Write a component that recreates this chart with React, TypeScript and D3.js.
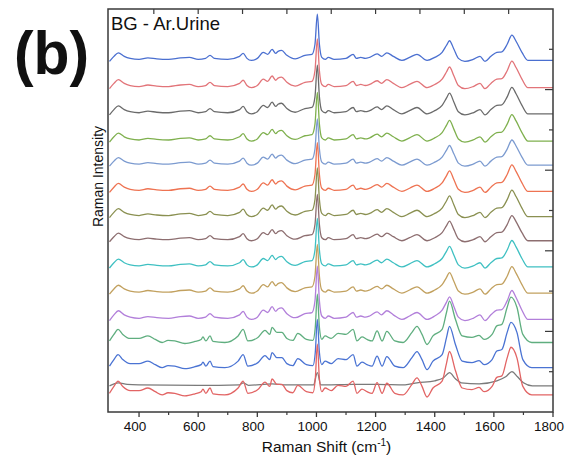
import { useEffect, useRef } from 'react';
import * as d3 from 'd3';

const W = 565;
const H = 464;
const MARGIN = { top: 9, right: 12, bottom: 52, left: 108 };

// [wavenumber (cm-1), intensity above the trace baseline]
const URINE_PROFILE: [number, number][] = [
  [300, -2], [315, 3], [330, 6.5], [350, 3], [370, 1], [400, 0], [430, 1.5], [460, 0.5],
  [500, 0], [540, 1.5], [570, 2], [600, 0], [625, 1], [640, 4], [655, 1], [700, 0],
  [740, 3], [752, 6], [765, 1], [780, -1], [800, 1], [820, 7], [835, 5], [850, 10],
  [862, 6], [870, 8], [882, 9], [900, 4], [928, 0.5], [961, 4], [985, 5], [995, 15],
  [1003, 45], [1010, 15], [1018, 2], [1030, 0], [1040, 2], [1060, 0], [1100, 1], [1124, 5],
  [1135, 1], [1150, 2], [1165, 1], [1180, 2], [1205, 5.5], [1220, 3], [1238, 6.5], [1260, 3],
  [1289, -1], [1315, 2], [1340, 5], [1374, -1], [1400, 2], [1425, 7], [1440, 14], [1450, 18.5],
  [1465, 10], [1480, 1], [1502, -2], [1530, 0], [1553, 3], [1570, -2], [1590, 3], [1610, 7],
  [1627, 7.5], [1645, 15], [1661, 24], [1675, 18], [1695, 7], [1715, -1], [1740, -1], [1800, -1],
];

const STRONG_PROFILE: [number, number][] = [
  [300, 1.5], [315, 8], [329, 13], [345, 8], [370, 4], [400, 4], [430, 6.5], [455, 3],
  [478, 0], [498, 2], [521, 1.5], [555, -1], [589, 1], [610, 3], [616, 5.5], [626, 1.5],
  [640, 6.5], [650, 1], [690, 0], [735, 6.5], [752, 13], [768, 1.5], [802, 5], [826, 12],
  [842, 8], [850, 15], [866, 10], [883, 10], [900, 4], [920, 2], [937, 9], [966, 3],
  [988, 2], [996, 15], [1003, 48], [1010, 15], [1018, 3], [1029, 6.5], [1050, 4], [1073, 9],
  [1100, 8], [1124, 13], [1137, 1.5], [1154, 5.5], [1171, 3], [1188, 1.5], [1205, 11.5], [1222, 1.5],
  [1238, 11], [1265, 1.5], [1293, 0], [1323, 10], [1340, 16], [1357, 8], [1374, -2], [1394, 6.5],
  [1425, 13], [1440, 30], [1450, 41], [1470, 23], [1493, 6.5], [1526, 5], [1550, 7], [1567, 3],
  [1594, 8], [1610, 16.5], [1627, 18], [1645, 35], [1658, 45], [1678, 35], [1698, 8], [1728, 0],
  [1800, 0],
];

const BG_PROFILE: [number, number][] = [
  [300, 0], [330, 3], [360, 1.5], [400, 1], [600, 0.5], [740, 1], [752, 3], [770, 0.5],
  [850, 2], [900, 1], [990, 1], [1003, 13], [1015, 1], [1030, 1], [1124, 1.5], [1205, 1.5],
  [1300, 1], [1340, 3], [1400, 5], [1430, 8], [1450, 13], [1470, 7], [1490, 3], [1550, 2],
  [1610, 5], [1640, 9], [1661, 14], [1680, 9], [1700, 3], [1730, 0], [1800, 0],
];

const PROFILES: Record<string, [number, number][]> = {
  urine: URINE_PROFILE,
  strong: STRONG_PROFILE,
  bg: BG_PROFILE,
};

// stacked traces, top to bottom
const TRACE_PROFILE = ['urine', 'urine', 'urine', 'urine', 'urine', 'urine', 'urine', 'urine',
  'urine', 'urine', 'urine', 'strong', 'strong', 'bg', 'strong'];
const TRACE_OFFSET = [350, 323, 297, 270, 246, 220, 195, 171, 145, 119, 93, 69, 44, 26, 17];
const TRACE_SCALE = [1, 1.05, 1.05, 1.05, 1, 1.05, 1.05, 1, 1.05, 1.05, 1.15, 1, 1, 1, 1.05];
const TRACE_COLORS = ['#4a6fd0', '#e27479', '#6b6b6b', '#7fb04e', '#7c9bd0', '#ee7352', '#8a9051',
  '#8d6e70', '#3fc0c2', '#c2a15f', '#b27fda', '#5fae7f', '#4a73d3', '#7a7a7a', '#e26464'];

const X_MAJOR = [400, 600, 800, 1000, 1200, 1400, 1600, 1800];
const X_MINOR = [500, 700, 900, 1100, 1300, 1500, 1700];
const X_TOP = [450, 600, 750, 900, 1050, 1200, 1350, 1500, 1650];
const Y_TICKS = [40, 80, 120, 160, 200, 240, 280, 320, 360];

export default function App() {
  const svgRef = useRef<SVGSVGElement>(null);

  useEffect(() => {
    const svg = d3.select(svgRef.current);
    svg.selectAll('*').remove();

    const x0 = MARGIN.left, x1 = W - MARGIN.right;
    const y0 = MARGIN.top, y1 = H - MARGIN.bottom;

    const xScale = d3.scaleLinear().domain([295, 1800]).range([x0, x1]);
    const yScale = d3.scaleLinear().domain([0, 400]).range([y1, y0]);

    svg.append('rect').attr('width', W).attr('height', H).attr('fill', '#fff');

    // Spectra
    const clip = svg.append('defs').append('clipPath').attr('id', 'plot-clip');
    clip.append('rect').attr('x', x0).attr('y', y0).attr('width', x1 - x0).attr('height', y1 - y0);

    const g = svg.append('g').attr('clip-path', 'url(#plot-clip)');
    TRACE_PROFILE.forEach((name, i) => {
      const pts = PROFILES[name];
      const line = d3.line<[number, number]>()
        .x(d => xScale(d[0]))
        .y(d => yScale(TRACE_OFFSET[i] + d[1] * TRACE_SCALE[i]))
        .curve(d3.curveMonotoneX);
      g.append('path')
        .attr('d', line(pts))
        .attr('fill', 'none')
        .attr('stroke', TRACE_COLORS[i])
        .attr('stroke-width', 1.3)
        .attr('stroke-linejoin', 'round');
    });

    // Frame
    svg.append('rect')
      .attr('x', x0).attr('y', y0).attr('width', x1 - x0).attr('height', y1 - y0)
      .attr('fill', 'none').attr('stroke', '#3a3a3a').attr('stroke-width', 1.5);

    // Bottom axis ticks (outward)
    X_MAJOR.forEach(v => {
      svg.append('line').attr('x1', xScale(v)).attr('x2', xScale(v))
        .attr('y1', y1).attr('y2', y1 + 5).attr('stroke', '#3a3a3a').attr('stroke-width', 1.3);
    });
    X_MINOR.forEach(v => {
      svg.append('line').attr('x1', xScale(v)).attr('x2', xScale(v))
        .attr('y1', y1).attr('y2', y1 + 3).attr('stroke', '#3a3a3a').attr('stroke-width', 1.2);
    });
    // Top axis ticks (inward)
    X_TOP.forEach(v => {
      svg.append('line').attr('x1', xScale(v)).attr('x2', xScale(v))
        .attr('y1', y0).attr('y2', y0 + 5).attr('stroke', '#3a3a3a').attr('stroke-width', 1.2);
    });
    // Right axis ticks (inward)
    Y_TICKS.forEach(v => {
      const major = v % 80 === 0;
      svg.append('line').attr('x1', x1).attr('x2', x1 - (major ? 8 : 4))
        .attr('y1', yScale(v)).attr('y2', yScale(v)).attr('stroke', '#3a3a3a').attr('stroke-width', 1.2);
    });

    const font = "'Liberation Sans', Arial, sans-serif";

    svg.append('g').selectAll('text').data(X_MAJOR).join('text')
      .attr('x', d => xScale(d) - 4).attr('y', y1 + 19)
      .attr('text-anchor', 'middle').attr('font-family', font).attr('font-size', 13.5)
      .attr('fill', '#111').text(d => d);

    const xt = svg.append('text')
      .attr('x', (x0 + x1) / 2 - 4).attr('y', 452)
      .attr('text-anchor', 'middle').attr('font-family', font).attr('font-size', 15.5).attr('fill', '#111');
    xt.append('tspan').text('Raman Shift (cm');
    xt.append('tspan').attr('dy', -6).attr('font-size', 10).text('-1');
    xt.append('tspan').attr('dy', 6).text(')');

    svg.append('text')
      .attr('transform', `translate(103,${(y0 + y1) / 2 - 34}) rotate(-90)`)
      .attr('text-anchor', 'middle').attr('font-family', font).attr('font-size', 14)
      .attr('fill', '#111').text('Raman Intensity');

    svg.append('text')
      .attr('x', 111).attr('y', 30)
      .attr('font-family', font).attr('font-size', 18.5).attr('fill', '#111')
      .text('BG - Ar.Urine');

    svg.append('text')
      .attr('transform', 'translate(14,74) scale(0.95,1)')
      .attr('font-family', font).attr('font-size', 62).attr('font-weight', 'bold')
      .attr('fill', '#111').text('(b)');
  }, []);

  return (
    <svg ref={svgRef} width={W} height={H}
      style={{ position: 'absolute', left: 0, top: 0, display: 'block' }} />
  );
}
